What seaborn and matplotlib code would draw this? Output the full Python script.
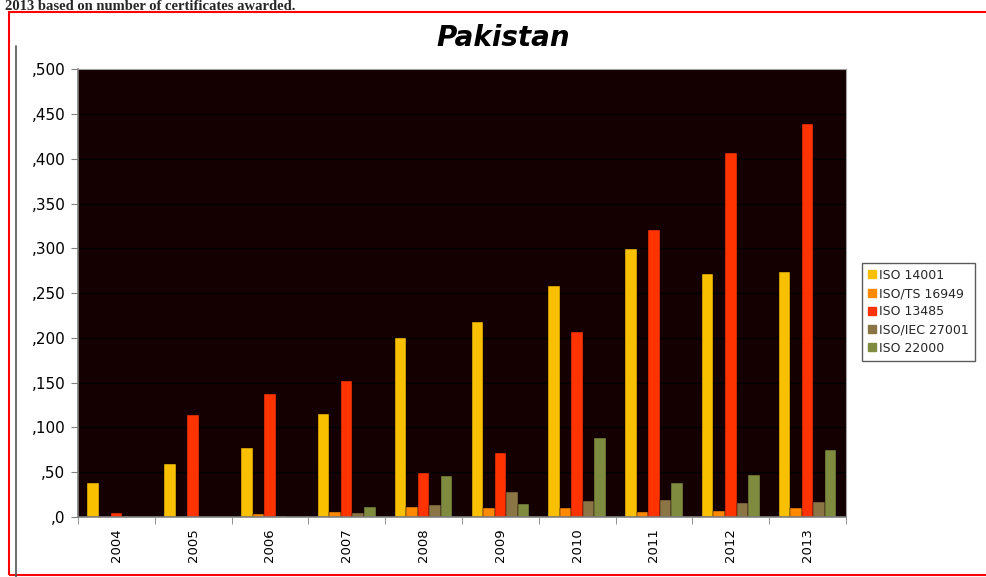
import pandas as pd
import matplotlib.pyplot as plt
import matplotlib.patches as mpatches
import seaborn as sns

# Values (certificates awarded, Pakistan)
years = ['2004', '2005', '2006', '2007', '2008', '2009', '2010', '2011', '2012', '2013']
iso_14001 = [38, 59, 77, 115, 200, 218, 258, 299, 271, 274]
iso_ts_16949 = [0, 0, 3, 6, 11, 10, 10, 6, 7, 10]
iso_13485 = [4, 114, 137, 152, 49, 71, 207, 321, 406, 439]
iso_iec_27001 = [0, 0, 1, 4, 13, 28, 18, 19, 16, 17]
iso_22000 = [0, 0, 0, 11, 46, 15, 88, 38, 47, 75]

series_names = ['ISO 14001', 'ISO/TS 16949', 'ISO 13485', 'ISO/IEC 27001', 'ISO 22000']
series_colors = ['#F9C000', '#FF8A00', '#FF3300', '#8C7544', '#7F8B3F']
y_ticks = [0, 50, 100, 150, 200, 250, 300, 350, 400, 450, 500]
y_tick_labels = [',0', ',50', ',100', ',150', ',200', ',250', ',300', ',350', ',400', ',450', ',500']

# Long format table for seaborn
all_values = [iso_14001, iso_ts_16949, iso_13485, iso_iec_27001, iso_22000]
rows = []
for name, vals in zip(series_names, all_values):
    for yr, v in zip(years, vals):
        rows.append({'Year': yr, 'Standard': name, 'Certificates': v})
df = pd.DataFrame(rows)

sns.set_style('white')
plt.rcParams['font.family'] = ['DejaVu Sans']

fig = plt.figure(figsize=(9.86, 5.77), dpi=100)
ax = fig.add_axes([0.079, 0.104, 0.779, 0.776])
ax.set_facecolor('#140000')

sns.barplot(data=df, x='Year', y='Certificates', hue='Standard', hue_order=series_names,
            palette=series_colors, width=0.75, ax=ax, legend=False, saturation=1,
            edgecolor='#140000', linewidth=0.3)

# Gridlines and axes styling like Excel
ax.set_ylim(0, 500)
ax.set_xlim(-0.5, len(years) - 0.5)
ax.set_yticks(y_ticks)
ax.set_yticklabels(y_tick_labels, fontsize=11, color='black')
ax.yaxis.grid(True, color='black', linewidth=1)
ax.set_axisbelow(True)
ax.tick_params(axis='y', length=5, color='#808080', left=True, pad=4)
ax.set_xticks(range(len(years)))
ax.set_xticklabels(years, rotation=90, fontsize=9.5, color='black')
ax.tick_params(axis='x', length=0, pad=8)
ax.set_xticks([i - 0.5 for i in range(len(years) + 1)], minor=True)
ax.tick_params(axis='x', which='minor', length=5, color='#808080', bottom=True)
ax.set_xlabel('')
ax.set_ylabel('')
for side in ['left', 'bottom']:
    ax.spines[side].set_color('#808080')
    ax.spines[side].set_linewidth(1.2)
ax.spines['top'].set_color('#A0A0A0')
ax.spines['right'].set_color('#A0A0A0')

fig.text(0.51, 0.935, 'Pakistan', ha='center', va='center', fontsize=20,
         fontweight='heavy', fontstyle='italic', color='black')

# Legend
handles = [mpatches.Patch(color=c, label=n) for n, c in zip(series_names, series_colors)]
leg = fig.legend(handles=handles, loc='upper left', bbox_to_anchor=(0.874, 0.545),
                 fontsize=9, frameon=True, fancybox=False, handlelength=0.6, handleheight=0.6,
                 handletextpad=0.3, labelspacing=0.42, borderpad=0.5, borderaxespad=0)
leg.get_frame().set_edgecolor('#333333')
leg.get_frame().set_linewidth(1)

# Spreadsheet chrome around the chart
fig.text(0.005, 1.0, '2013 based on number of certificates awarded.', ha='left', va='top',
         fontsize=10.5, fontweight='bold', family=['Liberation Serif'])
fig.patches.append(mpatches.Rectangle((0.009, 0.004), 1.2, 0.975, transform=fig.transFigure,
                                      fill=False, edgecolor='#FF0000', linewidth=1.5))
fig.lines.append(plt.Line2D([0.016, 0.016], [0.0, 0.92], transform=fig.transFigure,
                            color='#555555', linewidth=1.2))

fig.savefig('out.png', dpi=100)
